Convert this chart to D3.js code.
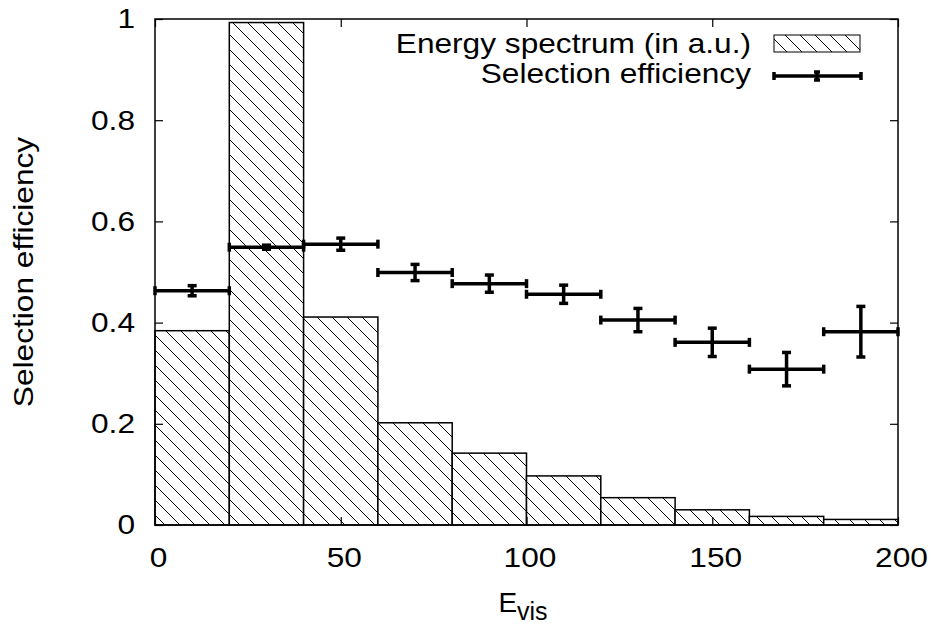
<!DOCTYPE html>
<html lang="en">
<head>
<meta charset="utf-8">
<script src="https://cdn.jsdelivr.net/npm/d3@7"></script>
<style>
  body { margin: 0; background: #fff; }
  text { font-family: "Liberation Sans", Arial, sans-serif; fill: #000; }
</style>
</head>
<body>
<svg id="chart" width="932" height="625"></svg>

<script>
"use strict";

// histogram bins (E_vis) and energy spectrum, arbitrary units
const binEdges = [0, 20, 40, 60, 80, 100, 120, 140, 160, 180, 200];
const spectrum = [0.384, 0.993, 0.411, 0.202, 0.142, 0.097, 0.054, 0.030, 0.017, 0.011];

// selection efficiency per bin, with errors
const effCenters = [10, 30, 50, 70, 90, 110, 130, 150, 170, 190];
const effHalfWidth = [10, 10, 10, 10, 10, 10, 10, 10, 10, 10];
const efficiency = [0.463, 0.549, 0.555, 0.499, 0.477, 0.456, 0.405, 0.361, 0.308, 0.382];
const effError = [0.010, 0.004, 0.012, 0.016, 0.017, 0.018, 0.023, 0.028, 0.033, 0.050];

const xTicks = [0, 50, 100, 150, 200];
const yTicks = [0, 0.2, 0.4, 0.6, 0.8, 1];
const yTickLabels = ["0", "0.2", "0.4", "0.6", "0.8", "1"];

const svg = d3.select("#chart");
const pLeft = 155, pRight = 898, pTop = 19, pBottom = 525;
const FS = 28, STRETCH = 1.13;

const x = d3.scaleLinear().domain([0, 200]).range([pLeft, pRight]);
const y = d3.scaleLinear().domain([0, 1]).range([pBottom, pTop]);

// hatch pattern
const defs = svg.append("defs");
const pat = defs.append("pattern")
  .attr("id", "hatch")
  .attr("patternUnits", "userSpaceOnUse")
  .attr("width", 15).attr("height", 15);
pat.append("rect").attr("width", 15).attr("height", 15).attr("fill", "#fff");
pat.append("path")
  .attr("d", "M0,0L15,15M-2,13L2,17M13,-2L17,2")
  .attr("stroke", "#000").attr("stroke-width", 1);

// spectrum bars
svg.append("g").selectAll("rect")
  .data(spectrum)
  .join("rect")
  .attr("x", (d, i) => x(binEdges[i]))
  .attr("width", (d, i) => x(binEdges[i + 1]) - x(binEdges[i]))
  .attr("y", d => y(d))
  .attr("height", d => y(0) - y(d))
  .attr("fill", "url(#hatch)")
  .attr("stroke", "#000")
  .attr("stroke-width", 1.5);

// axes, ticks pointing inward on all four sides
const gx = svg.append("g").attr("transform", `translate(0,${pBottom})`)
  .call(d3.axisBottom(x).tickValues(xTicks).tickSizeInner(-8).tickSizeOuter(0).tickPadding(22));
const gy = svg.append("g").attr("transform", `translate(${pLeft},0)`)
  .call(d3.axisLeft(y).tickValues(yTicks).tickFormat((d, i) => yTickLabels[i])
    .tickSizeInner(-8).tickSizeOuter(0).tickPadding(20));
svg.append("g").attr("transform", `translate(0,${pTop})`)
  .call(d3.axisTop(x).tickValues(xTicks).tickSizeInner(-8).tickSizeOuter(0).tickFormat(""));
svg.append("g").attr("transform", `translate(${pRight},0)`)
  .call(d3.axisRight(y).tickValues(yTicks).tickSizeInner(-8).tickSizeOuter(0).tickFormat(""));

svg.selectAll(".domain").remove();
svg.selectAll(".tick line").attr("stroke", "#000").attr("stroke-width", 1.2);
svg.selectAll(".tick text").attr("font-size", FS).attr("font-family", null);
gx.selectAll(".tick text").attr("dx", 3);

svg.append("rect")
  .attr("x", pLeft).attr("y", pTop)
  .attr("width", pRight - pLeft).attr("height", pBottom - pTop)
  .attr("fill", "none").attr("stroke", "#000").attr("stroke-width", 1.5);

// efficiency points with error bars
const cap = 4.5;
const eff = svg.append("g").attr("stroke", "#000").attr("stroke-width", 3.5).attr("fill", "none");
effCenters.forEach((c, i) => {
  const x0 = x(c - effHalfWidth[i]), x1 = x(c + effHalfWidth[i]);
  const yc = y(efficiency[i]);
  const ylo = y(efficiency[i] - effError[i]), yhi = y(efficiency[i] + effError[i]);
  eff.append("line").attr("x1", x0).attr("x2", x1).attr("y1", yc).attr("y2", yc);
  eff.append("line").attr("x1", x0).attr("x2", x0).attr("y1", yc - cap).attr("y2", yc + cap);
  eff.append("line").attr("x1", x1).attr("x2", x1).attr("y1", yc - cap).attr("y2", yc + cap);
  eff.append("line").attr("x1", x(c)).attr("x2", x(c)).attr("y1", yhi).attr("y2", ylo);
  eff.append("line").attr("x1", x(c) - cap).attr("x2", x(c) + cap).attr("y1", yhi).attr("y2", yhi);
  eff.append("line").attr("x1", x(c) - cap).attr("x2", x(c) + cap).attr("y1", ylo).attr("y2", ylo);
});

// legend
const leg = svg.append("g");
leg.append("text").attr("x", 751).attr("y", 53).attr("text-anchor", "end")
  .attr("font-size", FS).text("Energy spectrum (in a.u.)");
leg.append("text").attr("x", 751).attr("y", 83).attr("text-anchor", "end")
  .attr("font-size", FS).text("Selection efficiency");
leg.append("rect").attr("x", 774).attr("y", 35).attr("width", 86).attr("height", 17)
  .attr("fill", "url(#hatch)").attr("stroke", "#000").attr("stroke-width", 1);
const ls = leg.append("g").attr("stroke", "#000").attr("stroke-width", 3.5);
ls.append("line").attr("x1", 774).attr("x2", 861).attr("y1", 76).attr("y2", 76);
ls.append("line").attr("x1", 774).attr("x2", 774).attr("y1", 72).attr("y2", 80);
ls.append("line").attr("x1", 861).attr("x2", 861).attr("y1", 72).attr("y2", 80);
ls.append("line").attr("x1", 817).attr("x2", 817).attr("y1", 72).attr("y2", 80);
ls.append("line").attr("x1", 814).attr("x2", 820).attr("y1", 72).attr("y2", 72);
ls.append("line").attr("x1", 814).attr("x2", 820).attr("y1", 80).attr("y2", 80);

// axis titles
svg.append("text")
  .attr("transform", `translate(33,${(pTop + pBottom) / 2}) rotate(-90)`)
  .attr("text-anchor", "middle").attr("font-size", FS)
  .text("Selection efficiency");

const xt = svg.append("text").attr("class", "nostretch")
  .attr("x", 523).attr("y", 612).attr("text-anchor", "middle").attr("font-size", FS);
xt.append("tspan").text("E");
xt.append("tspan").attr("dy", 8).attr("font-size", 25).text("vis");

// the original lettering is a little wider than Liberation Sans
svg.selectAll("text:not(.nostretch)").each(function() {
  const t = d3.select(this);
  if (!this.textContent) return;
  t.attr("textLength", this.getComputedTextLength() * STRETCH)
   .attr("lengthAdjust", "spacingAndGlyphs");
});
</script>
</body>
</html>
